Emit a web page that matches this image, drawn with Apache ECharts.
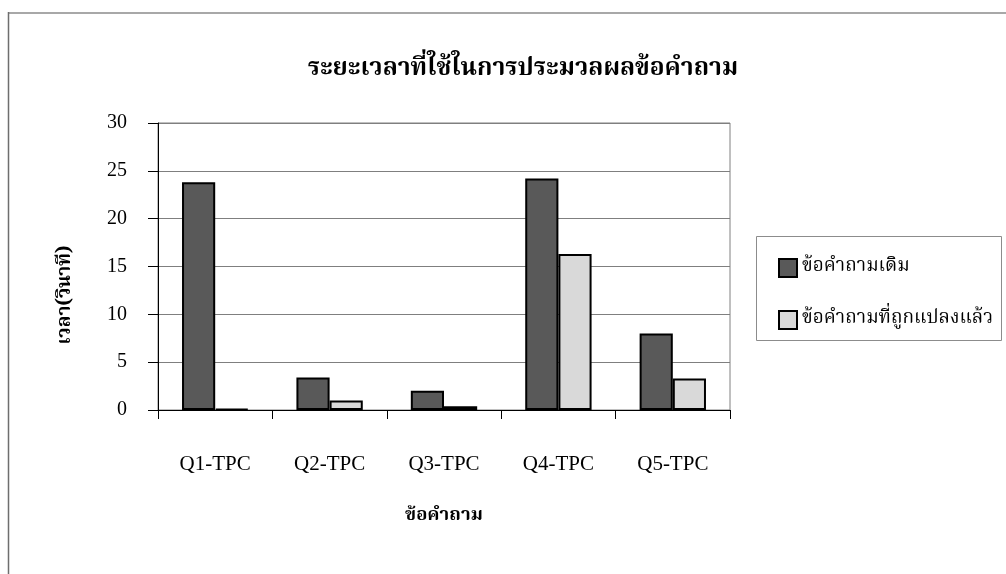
<!DOCTYPE html>
<html>
<head>
<meta charset="utf-8">
<script src="https://cdn.jsdelivr.net/npm/echarts@6/dist/echarts.min.js"></script>
<style>
  html, body { margin: 0; padding: 0; background: #ffffff; }
  #chart { width: 1006px; height: 574px; }
</style>
</head>
<body>
<div id="chart"></div>
<script>
// Processing time per question (seconds)
const categories = ['Q1-TPC', 'Q2-TPC', 'Q3-TPC', 'Q4-TPC', 'Q5-TPC'];
const originalTimes = [23.8, 3.4, 2.0, 24.2, 8.0];
const transformedTimes = [0.12, 1.0, 0.4, 16.3, 3.3];
const seriesNames = ['ข้อคำถามเดิม', 'ข้อคำถามที่ถูกแปลงแล้ว'];
const yTicks = { min: 0, max: 30, interval: 5 };
const chartTitle = 'ระยะเวลาที่ใช้ในการประมวลผลข้อคำถาม';
const xAxisTitle = 'ข้อคำถาม';
const yAxisTitle = 'เวลา(วินาที)';

const thaiFont = '"Noto Serif Thai", "Noto Sans Thai Looped", Norasi, Kinnari, "Noto Sans Thai", Garuda, Loma, "DejaVu Sans", sans-serif';
const serifFont = '"Liberation Serif", "DejaVu Serif", serif';

const chart = echarts.init(document.getElementById('chart'), null, { renderer: 'canvas' });

chart.setOption({
  animation: false,
  backgroundColor: '#ffffff',
  title: {
    text: chartTitle,
    left: 518,
    textAlign: 'center',
    top: 53,
    textStyle: { fontFamily: thaiFont, fontWeight: 'bold', fontSize: 24.5, color: '#000' }
  },
  legend: {
    orient: 'vertical',
    left: 773,
    top: 253,
    itemWidth: 18,
    itemHeight: 18,
    itemGap: 32,
    icon: 'rect',
    data: seriesNames,
    textStyle: { fontFamily: thaiFont, fontSize: 19, color: '#000', lineHeight: 20 }
  },
  grid: {
    left: 158, top: 123, right: 276, bottom: 164,
    show: true, borderColor: '#808080', borderWidth: 1, containLabel: false
  },
  xAxis: {
    type: 'category',
    data: categories,
    name: xAxisTitle,
    nameLocation: 'middle',
    nameGap: 97,
    nameTextStyle: { fontFamily: thaiFont, fontWeight: 'bold', fontSize: 18.5, color: '#000' },
    axisLine: { lineStyle: { color: '#000', width: 1 } },
    axisTick: { show: true, inside: false, length: 9, lineStyle: { color: '#000' } },
    axisLabel: { margin: 44, fontFamily: serifFont, fontSize: 21, color: '#000' }
  },
  yAxis: {
    type: 'value',
    min: yTicks.min, max: yTicks.max, interval: yTicks.interval,
    axisLine: { show: true, lineStyle: { color: '#000', width: 1 } },
    axisTick: { show: true, inside: false, length: 10, lineStyle: { color: '#000' } },
    axisLabel: { margin: 31, fontFamily: serifFont, fontSize: 20, color: '#000' },
    splitLine: { lineStyle: { color: '#7f7f7f', width: 1 } }
  },
  series: [
    {
      name: seriesNames[0], type: 'bar', data: originalTimes,
      barGap: '0%', barCategoryGap: '42%',
      itemStyle: { color: '#595959', borderColor: '#000', borderWidth: 2 }
    },
    {
      name: seriesNames[1], type: 'bar', data: transformedTimes,
      barGap: '0%', barCategoryGap: '42%',
      itemStyle: { color: '#d9d9d9', borderColor: '#000', borderWidth: 2 }
    }
  ],
  graphic: [
    // chart-area frame
    { type: 'line', shape: { x1: 8, y1: 13, x2: 1006, y2: 13 }, style: { stroke: '#a8a8a8', lineWidth: 2 } },
    { type: 'line', shape: { x1: 8.5, y1: 12, x2: 8.5, y2: 574 }, style: { stroke: '#6e6e6e', lineWidth: 1.5 } },
    // legend frame
    { type: 'rect', shape: { x: 756.5, y: 236.5, width: 245, height: 104 }, style: { fill: 'none', stroke: '#8c8c8c', lineWidth: 1 }, z: -1 },
    // value-axis title, reading bottom to top
    {
      type: 'text', x: 67, y: 295, rotation: Math.PI / 2,
      style: { text: yAxisTitle, align: 'center', verticalAlign: 'middle', fontFamily: thaiFont, fontWeight: 'bold', fontSize: 19, fill: '#000' }
    }
  ]
});
</script>
</body>
</html>
